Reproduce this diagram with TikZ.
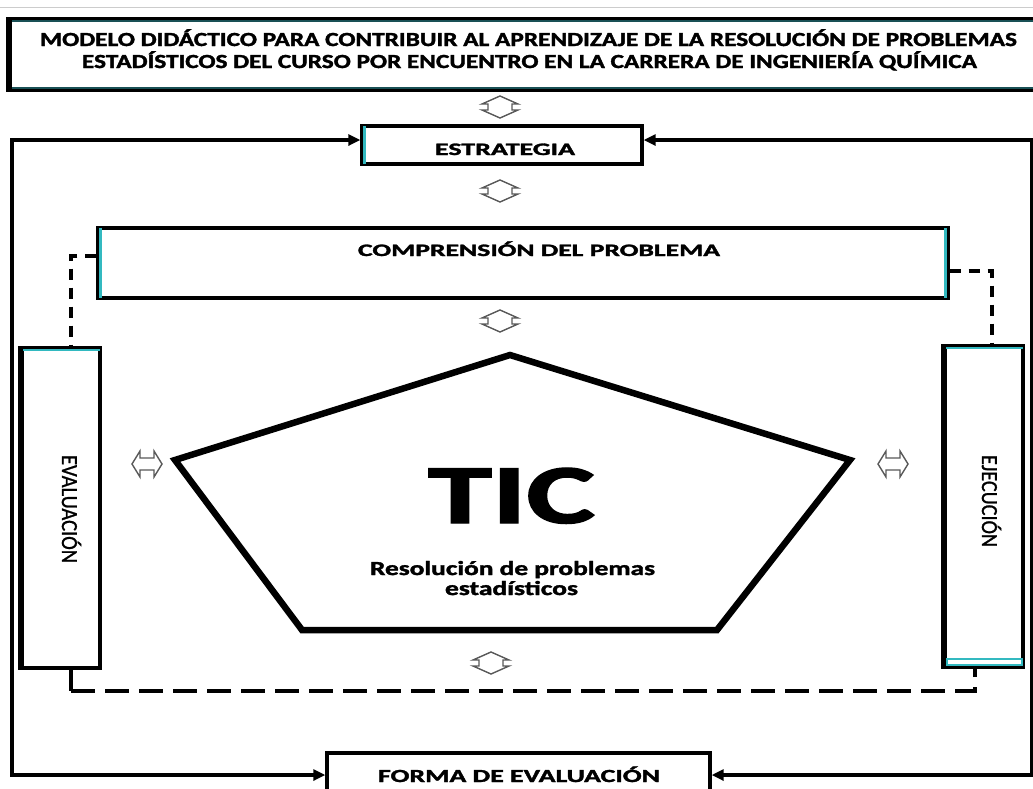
\documentclass[tikz,border=0pt]{standalone}
\usepackage{graphicx}
\usepackage{fontspec}
\setmainfont{Carlito}[BoldFeatures={FakeBold=1.6}]
\newfontfamily\vfont{Carlito}[FakeBold=1.2]
\usetikzlibrary{arrows.meta}
\definecolor{cyanish}{RGB}{50,185,192}
\definecolor{darkteal}{RGB}{25,80,85}
\newlength\fitlen
\newcommand\fitw[2]{\settowidth{\fitlen}{#2}\pgfmathsetmacro\fitfac{#1/\fitlen}\scalebox{\fitfac}[1]{#2}}
\newcommand\lbl[3]{\fitw{#1}{\fontsize{#2}{#2}\selectfont\bfseries #3}}
\newcommand\lblr[3]{\fitw{#1}{\fontsize{#2}{#2}\selectfont\vfont #3}}
\tikzset{
  box/.style={draw=black, line width=3.4pt, fill=white, inner sep=0pt},
  strip/.style={draw=cyanish, line width=2.6pt},
  thickedge/.style={draw=black, line width=3.5pt},
  txt/.style={anchor=base, inner sep=0pt},
  fb/.style={line width=3.6pt, {Triangle[length=12pt,width=11pt]}-{Triangle[length=12pt,width=11pt]}},
  dline/.style={line width=3.6pt, dash pattern=on 24pt off 10pt},
  dvert/.style={line width=3.6pt, dash pattern=on 11pt off 8pt},
  darrow/.style={draw=black!65, line width=1.4pt, line join=miter},
  dblv/.pic={\draw[darrow] (0,-11) -- (-18,-3) -- (-12,-3) -- (-12,3) -- (-18,3) -- (0,11) -- (18,3) -- (12,3) -- (12,-3) -- (18,-3) -- cycle;},
  dblh/.pic={\draw[darrow] (-15,0) -- (-7,-13) -- (-7,-6) -- (7,-6) -- (7,-13) -- (15,0) -- (7,13) -- (7,6) -- (-7,6) -- (-7,13) -- cycle;}
}
\begin{document}
\begin{tikzpicture}[x=1pt,y=-1pt]
\useasboundingbox (0,0) rectangle (1033,788);
\fill[white] (0,0) rectangle (1033,788);
\draw[black!20, line width=1pt] (0,7) -- (1033,7);

% boxes
\node[box, minimum width=1032pt, minimum height=72pt] (title) at (524,54.5) {};
\node[box, minimum width=280pt, minimum height=38pt] (estr) at (502,145) {};
\node[box, minimum width=850pt, minimum height=70pt] (comp) at (523,263) {};
\node[box, minimum width=80pt, minimum height=320pt] (eval) at (60,508) {};
\node[box, minimum width=80pt, minimum height=321pt] (ejec) at (983,506.5) {};
\node[box, minimum width=383pt, minimum height=47pt] (form) at (518.5,776.5) {};

% box decorations
\draw[draw=darkteal, line width=2.2pt] ([shift={(3pt,-4pt)}]title.north west) -- ([shift={(0pt,-4pt)}]title.north east);
\draw[draw=darkteal, line width=2.2pt] ([shift={(3pt,4pt)}]title.south west) -- ([shift={(0pt,4pt)}]title.south east);
\draw[thickedge] ([shift={(3.5pt,-1pt)}]title.north west) -- ([shift={(3.5pt,1pt)}]title.south west);
\draw[strip] ([shift={(4pt,-2pt)}]estr.north west) -- ([shift={(4pt,2pt)}]estr.south west);
\draw[strip] ([shift={(4pt,-2pt)}]comp.north west) -- ([shift={(4pt,2pt)}]comp.south west);
\draw[strip] ([shift={(-4pt,-2pt)}]comp.north east) -- ([shift={(-4pt,2pt)}]comp.south east);
\draw[thickedge] ([shift={(3.5pt,-1pt)}]eval.north west) -- ([shift={(3.5pt,1pt)}]eval.south west);
\draw[strip, line width=1.8pt] ([shift={(5pt,-3.5pt)}]eval.north west) -- ([shift={(-2pt,-3.5pt)}]eval.north east);
\draw[thickedge] ([shift={(3.5pt,-1pt)}]ejec.north west) -- ([shift={(3.5pt,1pt)}]ejec.south west);
\draw[strip, line width=1.8pt] ([shift={(5pt,-3.5pt)}]ejec.north west) -- ([shift={(-2pt,-3.5pt)}]ejec.north east);
\draw[draw=cyanish, line width=1.8pt, fill=white] ([shift={(5.5pt,3.5pt)}]ejec.south west) rectangle ([shift={(-3pt,10pt)}]ejec.south east);

% pentagon
\coordinate (p1) at (510,355);
\coordinate (p2) at (850,460);
\coordinate (p3) at (717,630);
\coordinate (p4) at (302,630);
\coordinate (p5) at (175,460);
\draw[line width=6.5pt, line join=miter] (p1) -- (p2) -- (p3) -- (p4) -- (p5) -- cycle;

% texts
\node[txt] (t1) at (528.5,46) {\lbl{977}{20}{MODELO DIDÁCTICO PARA CONTRIBUIR AL APRENDIZAJE DE LA RESOLUCIÓN DE PROBLEMAS}};
\node[txt] (t2) at (529.5,68) {\lbl{895}{20}{ESTADÍSTICOS DEL CURSO POR ENCUENTRO EN LA CARRERA DE INGENIERÍA QUÍMICA}};
\node[txt] (testr) at (505,155) {\lbl{140}{17.5}{ESTRATEGIA}};
\node[txt] (tcomp) at (539,256) {\lbl{362}{17.5}{COMPRENSIÓN DEL PROBLEMA}};
\node[txt] (tform) at (519,782) {\lbl{282}{18.5}{FORMA DE EVALUACIÓN}};
\node[txt] (ttic) at (511.5,523) {\lbl{167}{84}{TIC}};
\node[txt] (tres1) at (512.5,575) {\lbl{285}{20}{Resolución de problemas}};
\node[txt] (tres2) at (511.5,595) {\lbl{133}{20}{estadísticos}};
\node[txt, rotate=-90] (teval) at (62,509) {\lblr{108}{23}{EVALUACIÓN}};
\node[txt, rotate=-90] (tejec) at (982,501) {\lblr{92}{23}{EJECUCIÓN}};

% double arrows
\pic at (500,107) {dblv};
\pic at (500,191) {dblv};
\pic at (500,321) {dblv};
\pic at (491,663) {dblv};
\pic at (147,464) {dblh};
\pic at (893,464) {dblh};

% feedback loop
\coordinate (lc) at (12,450);
\coordinate (rc) at (1032,450);
\draw[fb] ([yshift=5pt]estr.west) -| (lc) |- ([yshift=1.5pt]form.west);
\draw[fb] ([yshift=5pt]estr.east) -| (rc) |- ([yshift=1.5pt]form.east);

% dashed connectors
\draw[dvert] ([yshift=7pt]comp.west) -| ([xshift=11pt]eval.north);
\draw[dvert] ([yshift=-8pt]comp.east) -| ([xshift=9pt]ejec.north);
\coordinate (bl) at (71,691);
\draw[line width=3.6pt] ([xshift=11pt]eval.south) -- (bl);
\draw[dline] (bl) -| ([xshift=-8pt]ejec.south);
\end{tikzpicture}
\end{document}
